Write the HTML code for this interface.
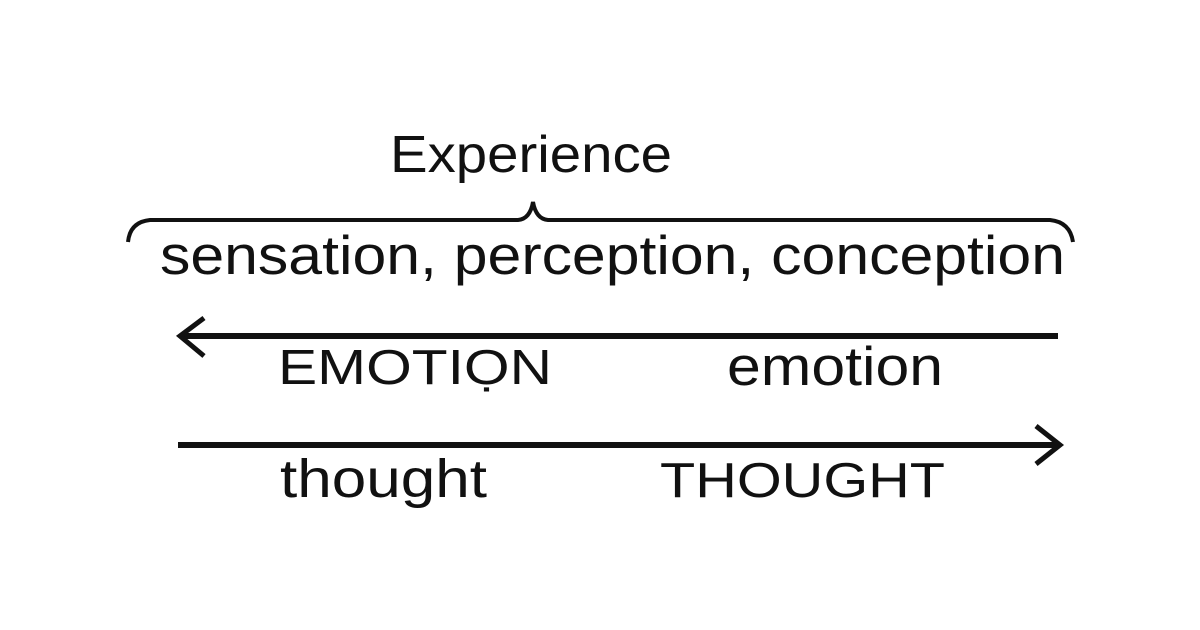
<!DOCTYPE html>
<html><head><meta charset="utf-8"><style>
html,body{margin:0;padding:0;background:#fff;}
svg{display:block}
text{font-family:"Liberation Sans Narrow","Liberation Sans",sans-serif;fill:#111;}
</style></head><body>
<svg width="1200" height="630" viewBox="0 0 1200 630" xmlns="http://www.w3.org/2000/svg">
<rect width="1200" height="630" fill="#fff"/>
<text x="390" y="172" font-size="52" textLength="282" lengthAdjust="spacingAndGlyphs">Experience</text>
<path d="M128 242 Q130 222 150 220 L518 220 Q530 219 533 202 Q536 219 548 220 L1050 220 Q1070 222 1073 242" fill="none" stroke="#111" stroke-width="4"/>
<text x="160" y="274" font-size="55" textLength="905" lengthAdjust="spacingAndGlyphs">sensation, perception, conception</text>
<line x1="182" y1="336" x2="1058" y2="336" stroke="#111" stroke-width="6"/>
<path d="M204 318 L180 336 L204 356" fill="none" stroke="#111" stroke-width="5"/>
<text x="278" y="384" font-size="49" textLength="274" lengthAdjust="spacingAndGlyphs">EMOTIỌN</text>
<text x="727" y="385" font-size="55" textLength="216" lengthAdjust="spacingAndGlyphs">emotion</text>
<line x1="178" y1="445" x2="1058" y2="445" stroke="#111" stroke-width="6"/>
<path d="M1036 426 L1060 445 L1036 464" fill="none" stroke="#111" stroke-width="5"/>
<text x="280" y="497" font-size="54" textLength="207" lengthAdjust="spacingAndGlyphs">thought</text>
<text x="660" y="497" font-size="49" textLength="285" lengthAdjust="spacingAndGlyphs">THOUGHT</text>
</svg>
</body></html>
